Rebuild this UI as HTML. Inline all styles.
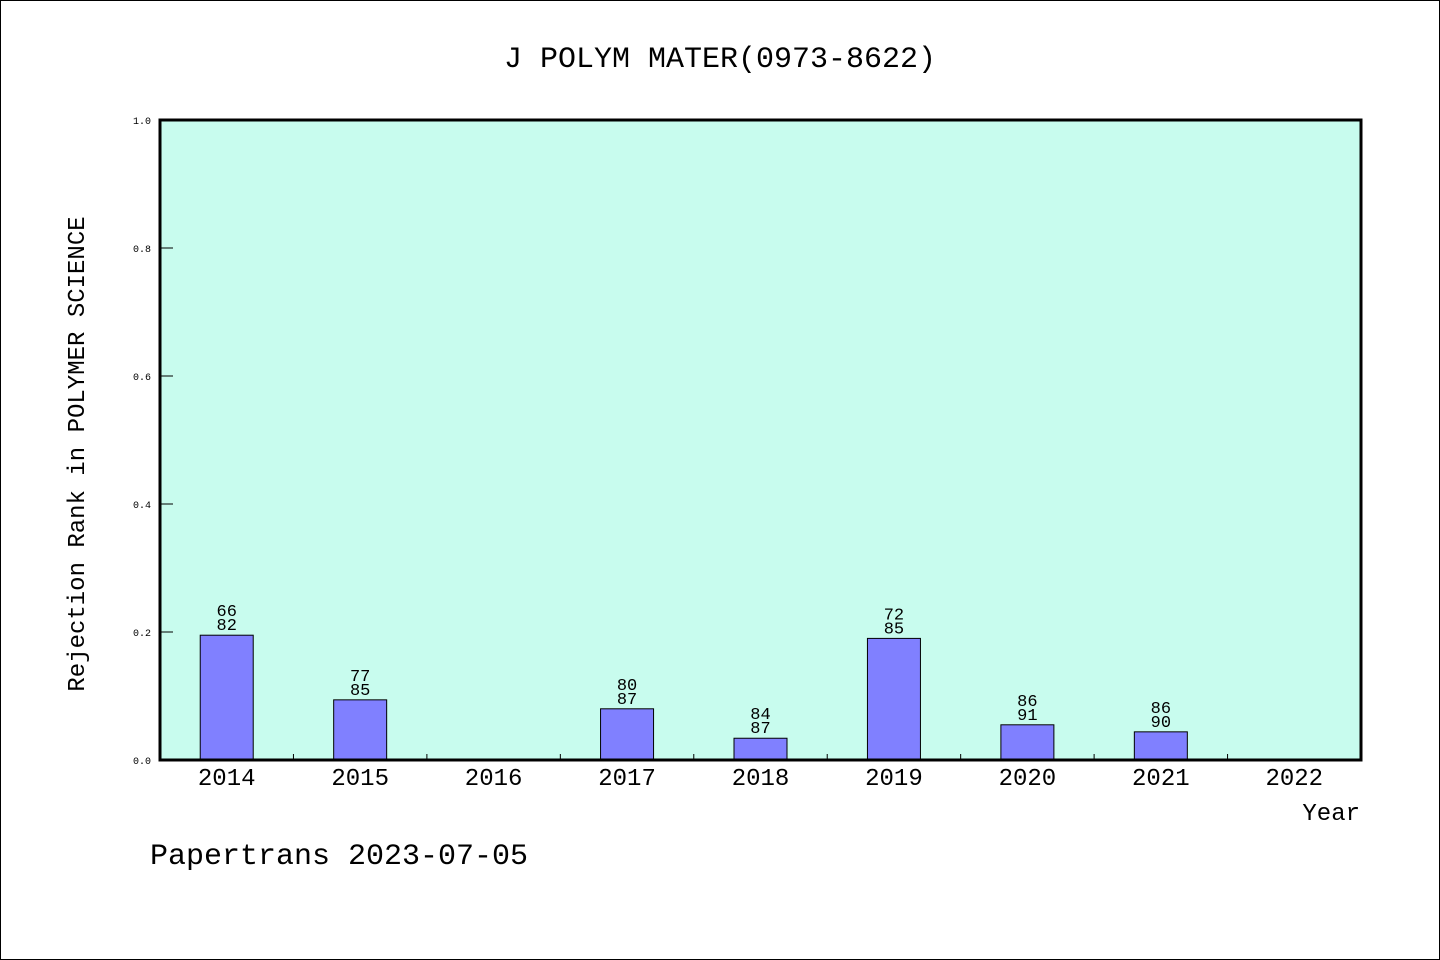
<!DOCTYPE html>
<html><head><meta charset="utf-8"><style>
html,body{margin:0;padding:0;background:#fff}
svg{display:block}
text{font-family:"Liberation Mono",monospace;fill:#000}
</style></head><body>
<svg id="chart" width="1440" height="960">
<rect x="0.5" y="0.5" width="1439" height="959" fill="#fff" stroke="#000"/>
<text x="720" y="67" font-size="30" text-anchor="middle">J POLYM MATER(0973-8622)</text>
<rect x="160" y="120" width="1201" height="640" fill="#c8fcee"/>
<g id="ticks"></g>
<g id="bars"></g>
<rect x="160" y="120" width="1201" height="640" fill="none" stroke="#000" stroke-width="3"/>
<text transform="translate(84,454) rotate(-90)" font-size="24" text-anchor="middle">Rejection Rank in POLYMER SCIENCE</text>
<text x="1360" y="820" font-size="24" text-anchor="end">Year</text>
<text x="150" y="864" font-size="30">Papertrans 2023-07-05</text>
</svg>
<script>
const years=["2014","2015","2016","2017","2018","2019","2020","2021","2022"];
const values=[0.195,0.094,null,0.080,0.034,0.190,0.055,0.044,null];
const rankLabels=["66","77","","80","84","72","86","86",""];
const totalLabels=["82","85","","87","87","85","91","90",""];
const yTicks=[0,0.2,0.4,0.6,0.8,1.0];
const yTickLabels=["0.0","0.2","0.4","0.6","0.8","1.0"];
const NS="http://www.w3.org/2000/svg";
const X0=160,W=1201,Y0=760,H=640;
const bw=W/years.length;
const xc=i=>X0+bw*(i+0.5);
const y=v=>Y0-v*H;
function mk(tag,attrs,parent){const e=document.createElementNS(NS,tag);for(const k in attrs)e.setAttribute(k,attrs[k]);parent.appendChild(e);return e;}
const tg=document.getElementById('ticks'),bg=document.getElementById('bars');
yTicks.forEach((t,i)=>{
  const l=mk('line',{x1:160,x2:173,y1:y(t),y2:y(t),stroke:'#000','stroke-width':1},tg);
  
  
  const tx=mk('text',{x:151,y:y(t)+4,'font-size':10,'text-anchor':'end'},tg);
  tx.textContent=yTickLabels[i];
  
  
});
years.forEach((yr,i)=>{
  if(i>0){
    const l=mk('line',{x1:X0+bw*i,x2:X0+bw*i,y1:754,y2:760,stroke:'#000','stroke-width':1},tg);
    
    
  }
  const t=mk('text',{x:xc(i),y:785,'font-size':24,'text-anchor':'middle'},tg);
  t.textContent=yr;
  
  
  if(values[i]!=null){
    const r=mk('rect',{x:xc(i)-26.5,y:y(values[i]),width:53,height:values[i]*H,fill:'#8080ff',stroke:'#000','stroke-width':1},bg);
    
    
    const a=mk('text',{x:xc(i),y:y(values[i])-19,'font-size':17,'text-anchor':'middle'},bg);
    a.textContent=rankLabels[i];
    
    
    const b=mk('text',{x:xc(i),y:y(values[i])-5,'font-size':17,'text-anchor':'middle'},bg);
    b.textContent=totalLabels[i];
    
    
  }
});
</script>
</body></html>
